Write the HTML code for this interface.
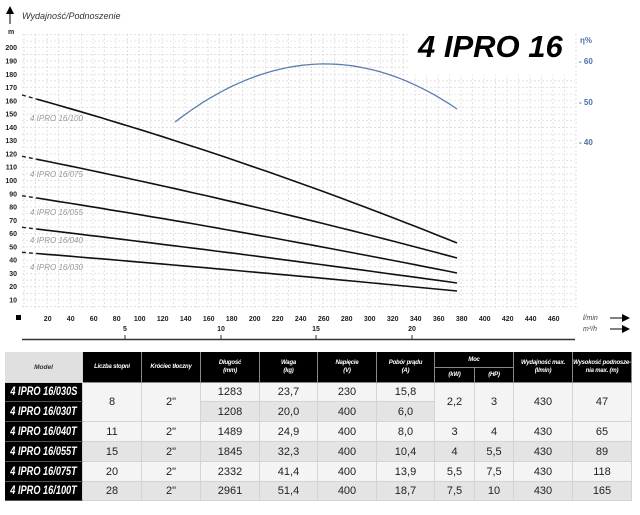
<!DOCTYPE html>
<html><head><meta charset="utf-8">
<style>
body{margin:0;background:#fff;width:640px;height:515px;overflow:hidden;position:relative;font-family:"Liberation Sans",sans-serif}
svg{position:absolute;left:0;top:0}
.c{position:absolute;display:flex;align-items:center;justify-content:center;text-align:center;box-sizing:border-box;border-right:1px solid #d4d4d4;border-bottom:1px solid #d4d4d4;font-size:11px;color:#222;white-space:nowrap}
.h{background:#000;color:#fff;font-size:6px;font-weight:bold;font-style:italic;line-height:8px;border-right:1px solid #888;border-bottom:1px solid #888;letter-spacing:-0.2px}
.m{background:#000;color:#fff;font-weight:bold;font-style:italic;font-size:11.5px;border-bottom:1px solid #555}
.m span{display:inline-block;transform:scaleX(0.8);transform-origin:center}
.l{background:#f4f4f4}.g{background:#e4e4e4}
</style></head><body>
<svg width="640" height="515" id="s" xmlns="http://www.w3.org/2000/svg">
<g id="grid" stroke="#d6d6d6" stroke-width="0.7" stroke-dasharray="2,2"></g>
<rect x="408" y="28" width="167" height="47" fill="#fff"/>
<text x="418" y="57" font-family="Liberation Sans" font-weight="bold" font-style="italic" font-size="31" fill="#000">4 IPRO 16</text>
<text x="580" y="43" font-size="8" fill="#4a6fa5" font-weight="bold">η%</text>
<text x="579" y="64" font-size="8" fill="#4a6fa5" font-weight="bold">- 60</text>
<text x="579" y="105" font-size="8" fill="#4a6fa5" font-weight="bold">- 50</text>
<text x="579" y="145" font-size="8" fill="#4a6fa5" font-weight="bold">- 40</text>
<line x1="10" y1="24" x2="10" y2="12" stroke="#000" stroke-width="1"/>
<polygon points="6,14 10,6 14,14" fill="#000"/>
<text x="22" y="19" font-size="9" font-style="italic" fill="#333">Wydajność/Podnoszenie</text>
<text x="8" y="34" font-size="7" font-weight="bold" fill="#222">m</text>
<g id="ylab" font-size="7" font-weight="bold" fill="#222" text-anchor="end"></g>
<g id="xlab" font-size="7" font-weight="bold" fill="#222" text-anchor="middle"></g>
<rect x="16" y="315" width="5" height="5" fill="#000"/>
<g font-size="7" font-style="italic" fill="#444">
<text x="583" y="320">l/min</text><text x="583" y="331">m³/h</text></g>
<line x1="610" y1="318" x2="625" y2="318" stroke="#000"/><polygon points="622,314 630,318 622,322" fill="#000"/>
<line x1="610" y1="329" x2="625" y2="329" stroke="#000"/><polygon points="622,325 630,329 622,333" fill="#000"/>
<line x1="22" y1="339.5" x2="575" y2="339.5" stroke="#333" stroke-width="1.5"/>
<g font-size="7" font-weight="bold" fill="#222" text-anchor="middle">
<text x="125" y="331">5</text><text x="221" y="331">10</text><text x="316" y="331">15</text><text x="412" y="331">20</text></g>
<g stroke="#333"><line x1="125" y1="335" x2="125" y2="339"/><line x1="221" y1="335" x2="221" y2="339"/><line x1="316" y1="335" x2="316" y2="339"/><line x1="412" y1="335" x2="412" y2="339"/></g>
<g font-size="8" font-style="italic" fill="#999">
<text x="30" y="121">4 IPRO 16/100</text>
<text x="30" y="177">4 IPRO 16/075</text>
<text x="30" y="215">4 IPRO 16/055</text>
<text x="30" y="243">4 IPRO 16/040</text>
<text x="30" y="270">4 IPRO 16/030</text></g>
<g id="curves"></g>
</svg>
<div id="t"></div>
<script>
var NS="http://www.w3.org/2000/svg";
function el(p,n,a,t){var e=document.createElementNS(NS,n);for(var k in a)e.setAttribute(k,a[k]);if(t!=null)e.textContent=t;document.getElementById(p).appendChild(e);return e;}
function Y(h){return 47.7+(200-h)*1.328;}
for(var h=5;h<=210;h+=5){var y=Y(h);el('grid','line',{x1:22,y1:y,x2:575,y2:y});}
for(var x=24;x<=576;x+=11.5){el('grid','line',{x1:x,y1:34,x2:x,y2:310});}
for(var h=10;h<=200;h+=10)el('ylab','text',{x:17,y:Y(h)+2.5},h);
for(var q=20;q<=460;q+=20)el('xlab','text',{x:24.7+q*1.15,y:321},q);
function quad(p){var x0=p[0][0],y0=p[0][1],x1=p[1][0],y1=p[1][1],x2=p[2][0],y2=p[2][1];
var d=(x0-x1)*(x0-x2)*(x1-x2);var a=(x2*(y1-y0)+x1*(y0-y2)+x0*(y2-y1))/d;
var b=(x2*x2*(y0-y1)+x1*x1*(y2-y0)+x0*x0*(y1-y2))/d;var c=(x1*x2*(x1-x2)*y0+x2*x0*(x2-x0)*y1+x0*x1*(x0-x1)*y2)/d;
return function(x){return a*x*x+b*x+c;};}
function path(f,xa,xb){var s="";for(var x=xa;x<=xb+0.01;x+=(xb-xa)/40)s+=(s?"L":"M")+x.toFixed(1)+","+f(x).toFixed(1);return s;}
var C=[[[22,95],[176,141],[457,243]],[[22,156.3],[200,194.3],[457,258]],[[22,195.7],[200,225],[457,273]],[[22,227.3],[200,249],[457,283]],[[22,252.3],[200,267.3],[457,291]]];
C.forEach(function(p){var f=quad(p);
el('curves','path',{d:path(f,22,37),stroke:"#222","stroke-width":1.4,fill:"none","stroke-dasharray":"4,3"});
el('curves','path',{d:path(f,37,457),stroke:"#111","stroke-width":1.6,fill:"none"});});
var fe=quad([[175,122],[330,64],[457,109]]);
el('curves','path',{d:path(fe,175,457),stroke:"#5a7fb0","stroke-width":1.3,fill:"none"});
var cx=[5,83,142,201,260,318,377,435,475,514,573,632];
var t=document.getElementById('t');
function cell(x1,x2,y1,y2,cls,txt){var d=document.createElement('div');d.className='c '+cls;d.style.left=x1+'px';d.style.top=y1+'px';d.style.width=(x2-x1)+'px';d.style.height=(y2-y1)+'px';d.innerHTML=txt;t.appendChild(d);}
cell(5,83,352,383,'','<i style="font-size:6.5px;font-weight:bold;color:#333">Model</i>');t.lastChild.style.background='#e0e0e0';
var hd=['Liczba stopni','Króciec tłoczny','Długość<br>(mm)','Waga<br>(kg)','Napięcie<br>(V)','Pobór prądu<br>(A)'];
for(var i=0;i<6;i++)cell(cx[i+1],cx[i+2],352,383,'h',hd[i]);
cell(435,514,352,368,'h','Moc');cell(435,475,368,383,'h','(kW)');cell(475,514,368,383,'h','(HP)');
cell(514,573,352,383,'h','Wydajność max.<br>(l/min)');cell(573,632,352,383,'h','Wysokość podnosze-<br>nia max. (m)');
var ry=[383,402,422,442,462,482,501];
var rows=[['4 IPRO 16/030S','8','2"','1283','23,7','230','15,8','2,2','3','430','47'],
['4 IPRO 16/030T','','','1208','20,0','400','6,0'],
['4 IPRO 16/040T','11','2"','1489','24,9','400','8,0','3','4','430','65'],
['4 IPRO 16/055T','15','2"','1845','32,3','400','10,4','4','5,5','430','89'],
['4 IPRO 16/075T','20','2"','2332','41,4','400','13,9','5,5','7,5','430','118'],
['4 IPRO 16/100T','28','2"','2961','51,4','400','18,7','7,5','10','430','165']];
rows.forEach(function(r,i){var y1=ry[i],y2=ry[i+1];var bg=(i==3||i==5)?'g':'l';
cell(5,83,y1,y2,'m','<span>'+r[0]+'</span>');
if(i==0){for(var j=1;j<11;j++){if(j>=3&&j<=6)cell(cx[j],cx[j+1],y1,y2,'l',r[j]);else cell(cx[j],cx[j+1],ry[0],ry[2],'l',r[j]);}}
else if(i==1){for(var j=3;j<=6;j++)cell(cx[j],cx[j+1],y1,y2,'g',r[j]);}
else for(var j=1;j<11;j++)cell(cx[j],cx[j+1],y1,y2,bg,r[j]);});
</script>
</body></html>
